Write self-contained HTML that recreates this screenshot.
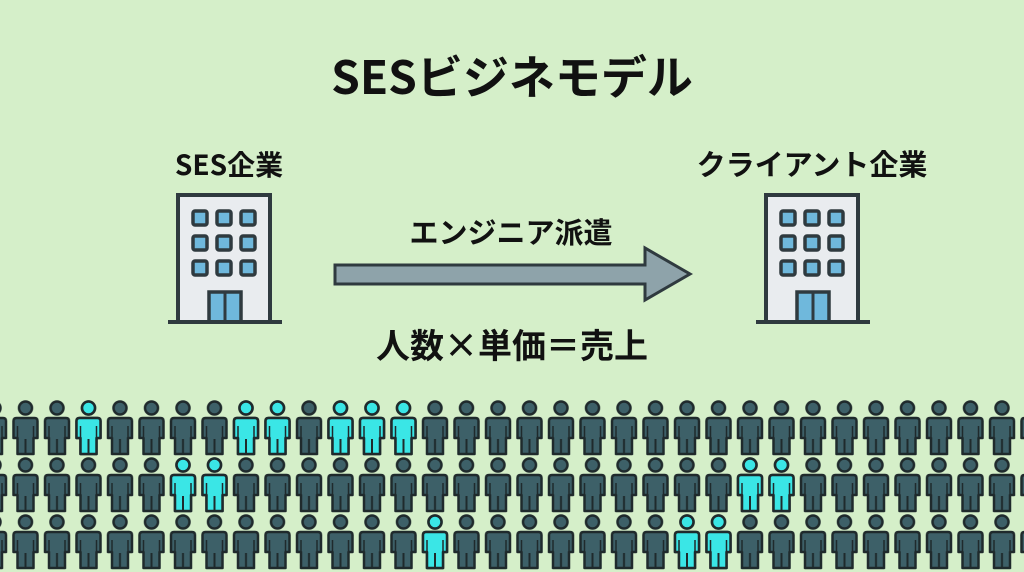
<!DOCTYPE html>
<html><head><meta charset="utf-8"><style>
html,body{margin:0;padding:0;width:1024px;height:572px;overflow:hidden;background:#d5efc9}
svg{display:block}
text{font-family:"Noto Sans CJK JP","Liberation Sans",sans-serif;font-weight:bold;fill:#111}
</style></head><body>
<svg width="1024" height="572" viewBox="0 0 1024 572" xmlns="http://www.w3.org/2000/svg">
<defs>
<g id="bld">
  <rect x="0" y="0" width="92" height="127" fill="#e9ecef" stroke="#2f3a3f" stroke-width="4"/>
  <g fill="#6fb8dc" stroke="#2f3a3f" stroke-width="3.5">
    <rect x="15" y="16" width="14" height="14" rx="2"/><rect x="39" y="16" width="14" height="14" rx="2"/><rect x="63" y="16" width="14" height="14" rx="2"/>
    <rect x="15" y="41" width="14" height="14" rx="2"/><rect x="39" y="41" width="14" height="14" rx="2"/><rect x="63" y="41" width="14" height="14" rx="2"/>
    <rect x="15" y="66" width="14" height="14" rx="2"/><rect x="39" y="66" width="14" height="14" rx="2"/><rect x="63" y="66" width="14" height="14" rx="2"/>
    <rect x="31" y="97" width="32" height="30"/>
  </g>
  <line x1="47" y1="97" x2="47" y2="127" stroke="#2f3a3f" stroke-width="3"/>
  <line x1="-10" y1="127" x2="104" y2="127" stroke="#2f3a3f" stroke-width="4"/>
</g>
<g id="p">
  <circle cx="0" cy="0" r="6.5" stroke="#1f2a2c" stroke-width="2.5"/>
  <path d="M-9,10 H9 Q12,10 12,13 V30 H8 V46 H-8 V30 H-12 V13 Q-12,10 -9,10 Z" stroke="#1f2a2c" stroke-width="2.5" stroke-linejoin="round"/>
  <line x1="0" y1="31" x2="0" y2="46" stroke="#1f2a2c" stroke-width="2"/>
  <line x1="-8" y1="18" x2="-8" y2="30" stroke="#1f2a2c" stroke-width="1.5"/>
  <line x1="8" y1="18" x2="8" y2="30" stroke="#1f2a2c" stroke-width="1.5"/>
</g>
<pattern id="crowd" patternUnits="userSpaceOnUse" x="-21.75" y="400" width="31.5" height="57">
  <use href="#p" x="15.75" y="8" fill="#3d6068"/>
</pattern>
</defs>
<text x="512" y="94" font-size="46" text-anchor="middle">SESビジネモデル</text>
<text x="229" y="175" font-size="28" text-anchor="middle">SES企業</text>
<text x="812" y="175" font-size="29" text-anchor="middle">クライアント企業</text>
<text x="511" y="243" font-size="29" text-anchor="middle">エンジニア派遣</text>
<text x="512" y="358" font-size="34" text-anchor="middle">人数×単価＝売上</text>
<use href="#bld" x="178" y="195"/>
<use href="#bld" x="766" y="195"/>
<path d="M335,265 H645 V248 L690,274 L645,300 V284 H335 Z" fill="#8ea3aa" stroke="#2f3a3f" stroke-width="3" stroke-linejoin="miter"/>
<rect x="0" y="400" width="1024" height="171" fill="url(#crowd)"/>
<g fill="#3ae6e6">
<use href="#p" x="88.5" y="408"/><use href="#p" x="246" y="408"/><use href="#p" x="277.5" y="408"/>
<use href="#p" x="340.5" y="408"/><use href="#p" x="372" y="408"/><use href="#p" x="403.5" y="408"/>
<use href="#p" x="183" y="465"/><use href="#p" x="214.5" y="465"/><use href="#p" x="750" y="465"/><use href="#p" x="781.5" y="465"/>
<use href="#p" x="435" y="522"/><use href="#p" x="687" y="522"/><use href="#p" x="718.5" y="522"/>
</g>
</svg>
</body></html>
